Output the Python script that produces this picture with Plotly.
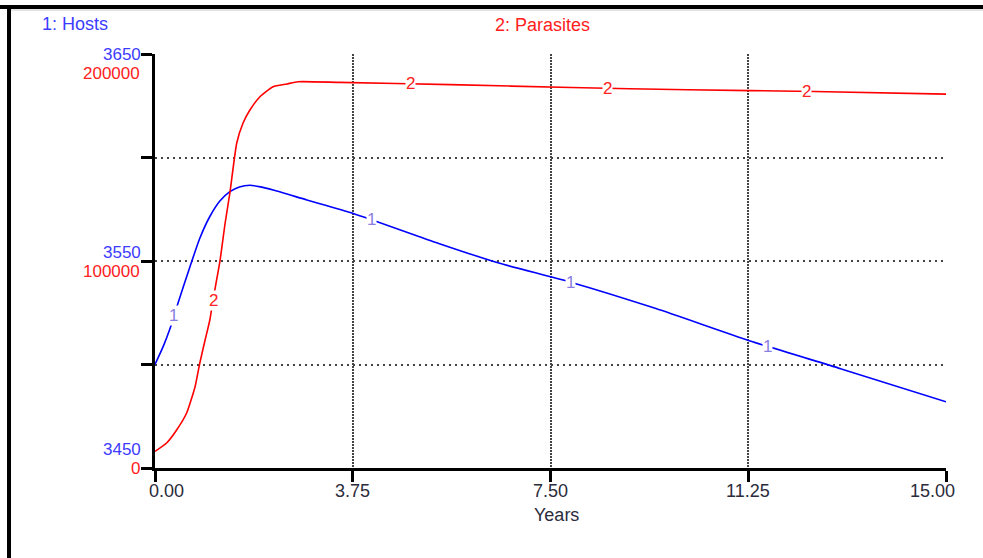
import numpy as np
import plotly.graph_objects as go

# ---------------- data ----------------
t_hosts = [0, 0.16, 0.28, 0.44, 0.66, 0.85, 1.04, 1.23, 1.42, 1.6, 1.8, 2.0,
           2.24, 2.88, 3.76, 5.38, 6.52, 7.85, 9.5, 11.27, 13.0, 15]
hosts = [3500, 3509, 3517, 3530, 3547, 3561, 3571.5, 3579, 3583.5,
         3585.8, 3586.6, 3585.8, 3584.3, 3579.5, 3573, 3558.5, 3549, 3540,
         3527, 3511.5, 3498, 3482]

t_par = [0, 0.22, 0.41, 0.60, 0.76, 0.85, 0.95, 1.04, 1.10, 1.23, 1.33, 1.42,
         1.55, 1.67, 1.80, 1.99, 2.24, 2.50, 2.71, 3.5, 5.6, 7.9, 10.1, 12.5, 15]
parasites = [8000, 12077, 18357, 26570, 39275, 50725, 61836, 71498, 81159,
             99662, 118357, 132850, 157005, 166667, 172947, 179372, 184203,
             185507, 186618, 186300, 185200, 183800, 182700, 181900, 180600]

x_ticks = [0, 3.75, 7.5, 11.25, 15]
x_ticktext = ["0.00", "3.75", "7.50", "11.25", "15.00"]
hosts_ticks = [3450, 3550, 3650]
hosts_ticktext = ["3450", "3550", "3650"]
par_ticks = [0, 100000, 200000]
par_ticktext = ["0", "100000", "200000"]
hosts_grid = [3450, 3500, 3550, 3600, 3650]

hosts_label_t = [0.36, 4.11, 7.87, 11.62]
par_label_t = [1.10, 4.84, 8.59, 12.36]

# ---------------- layout geometry ----------------
W, H = 983, 558
ML, MR, MT, MB = 155, 37, 54, 90
PW, PH = W - ML - MR, H - MT - MB


def px_x(px):
    return (px - ML) / PW


def px_y(py):
    return (H - MB - py) / PH


FONT = "Liberation Sans, Arial, sans-serif"
BLUE = "#0000ff"
RED = "#ff0000"
BLUE_TXT = "#3c3cff"
RED_TXT = "#ff2020"
DARK_TXT = "#2b2b3b"

fig = go.Figure()
fig.add_trace(go.Scatter(x=t_hosts, y=hosts, mode="lines",
                         line=dict(color=BLUE, width=1.6, shape="spline", smoothing=0.6),
                         yaxis="y", hoverinfo="skip"))
fig.add_trace(go.Scatter(x=t_par, y=parasites, mode="lines",
                         line=dict(color=RED, width=1.6, shape="spline", smoothing=0.5),
                         yaxis="y2", hoverinfo="skip"))

ann = []
# series labels on curves
for tt in hosts_label_t:
    ann.append(dict(x=tt, y=float(np.interp(tt, t_hosts, hosts)), xref="x", yref="y",
                    text="1", showarrow=False, bgcolor="white", borderpad=0,
                    font=dict(family=FONT, size=17, color="#8a7fe0")))
for tt in par_label_t:
    ann.append(dict(x=tt, y=float(np.interp(tt, t_par, parasites)), xref="x", yref="y2",
                    text="2", showarrow=False, bgcolor="white", borderpad=0,
                    font=dict(family=FONT, size=17, color=RED_TXT)))

# y tick labels (stacked pairs)
host_shift = [19, 9, 0]
par_shift = [0, -10, -19]
for v, s, sh in zip(hosts_ticks, hosts_ticktext, host_shift):
    ann.append(dict(x=px_x(142), y=v, xref="paper", yref="y", text=s, showarrow=False,
                    xanchor="right", yanchor="middle", yshift=sh, borderpad=0,
                    font=dict(family=FONT, size=17, color=BLUE_TXT)))
for v, s, sh in zip(par_ticks, par_ticktext, par_shift):
    ann.append(dict(x=px_x(141), y=v, xref="paper", yref="y2", text=s, showarrow=False,
                    xanchor="right", yanchor="middle", yshift=sh, borderpad=0,
                    font=dict(family=FONT, size=17, color=RED_TXT)))

# x tick labels
x_shift = [11, 0, 0, 0, -14]
for v, s, sh in zip(x_ticks, x_ticktext, x_shift):
    ann.append(dict(x=v, y=px_y(491), xref="x", yref="paper", text=s, showarrow=False,
                    xanchor="center", yanchor="middle", xshift=sh,
                    font=dict(family=FONT, size=18, color=DARK_TXT)))

ann.append(dict(x=px_x(556), y=px_y(515), xref="paper", yref="paper", text="Years",
                showarrow=False, xanchor="center", yanchor="middle",
                font=dict(family=FONT, size=18, color=DARK_TXT)))
ann.append(dict(x=px_x(40), y=px_y(24), xref="paper", yref="paper", text="1: Hosts",
                showarrow=False, xanchor="left", yanchor="middle",
                font=dict(family=FONT, size=18, color=BLUE_TXT)))
ann.append(dict(x=px_x(493), y=px_y(25), xref="paper", yref="paper", text="2: Parasites",
                showarrow=False, xanchor="left", yanchor="middle",
                font=dict(family=FONT, size=18, color=RED_TXT)))

shapes = [
    dict(type="line", xref="paper", yref="paper", x0=px_x(0), x1=px_x(W),
         y0=px_y(7), y1=px_y(7), line=dict(color="black", width=4)),
    dict(type="line", xref="paper", yref="paper", x0=px_x(9), x1=px_x(9),
         y0=px_y(5), y1=px_y(H), line=dict(color="black", width=4)),
    dict(type="line", xref="paper", yref="paper", x0=px_x(11), x1=px_x(W),
         y0=px_y(10), y1=px_y(10), line=dict(color="#c8c8c8", width=1)),
]

fig.update_layout(
    width=W, height=H,
    margin=dict(l=ML, r=MR, t=MT, b=MB),
    paper_bgcolor="white", plot_bgcolor="white",
    showlegend=False,
    annotations=ann, shapes=shapes,
    xaxis=dict(range=[0, 15], tickvals=x_ticks, showticklabels=False,
               ticks="outside", ticklen=11, tickwidth=3, tickcolor="black",
               showline=True, linecolor="black", linewidth=3,
               showgrid=True, gridcolor="#444444", gridwidth=1.5,
               griddash="1.5px,1.5px", zeroline=False, fixedrange=True),
    yaxis=dict(range=[3450, 3650], tickvals=hosts_grid, showticklabels=False,
               ticks="outside", ticklen=11, tickwidth=3, tickcolor="black",
               showline=True, linecolor="black", linewidth=3,
               showgrid=True, gridcolor="#444444", gridwidth=1.5,
               griddash="2px,4px", zeroline=False, fixedrange=True),
    yaxis2=dict(range=[0, 200000], overlaying="y", side="left",
                showticklabels=False, showgrid=False, showline=False,
                ticks="", zeroline=False, fixedrange=True),
)

fig.write_html("out.html",
               config={"displayModeBar": False},
               post_script="document.body.style.margin='0px';"
                           "document.body.style.overflow='hidden';")
